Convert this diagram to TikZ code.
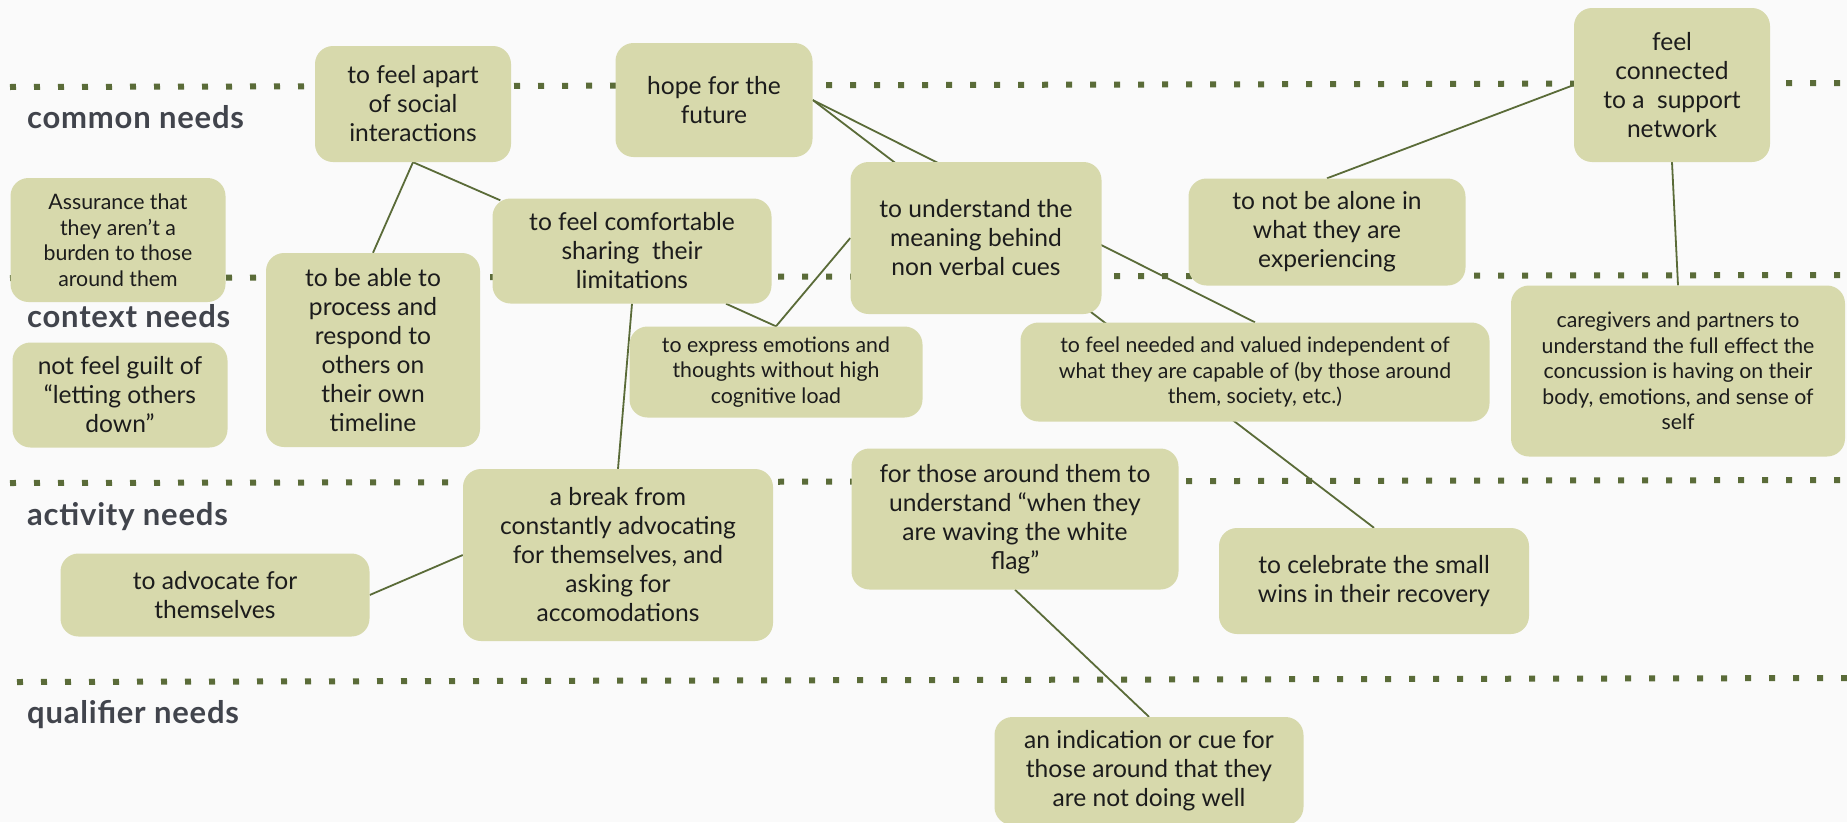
\documentclass[tikz,border=0pt]{standalone}
\usepackage{fontspec}
\setmainfont{Lato}
\newfontfamily\tierfont[LetterSpace=2.5]{Lato}
\usetikzlibrary{calc,backgrounds}
\definecolor{boxfill}{HTML}{D7D9AC}
\definecolor{olive}{HTML}{5A6B38}
\definecolor{labelgray}{HTML}{41444C}
\definecolor{paper}{HTML}{FAFAFA}
\definecolor{ink}{HTML}{1C1C1C}

\begin{document}
\begin{tikzpicture}[x=1pt,y=-1pt,
    needbox/.style={fill=boxfill,rounded corners=18pt,inner sep=0pt,align=center,text=ink,
      font=\fontsize{24.6}{29}\selectfont},
    smallbox/.style={needbox,font=\fontsize{21.3}{25.5}\selectfont},
    tier/.style={anchor=base west,inner sep=0pt,text=labelgray,font=\tierfont\fontsize{31}{36}\selectfont\bfseries},
    link/.style={olive,line width=1.8pt},
    dots/.style={olive,line width=6pt,dash pattern=on 6pt off 18pt}]
  \useasboundingbox (0,0) rectangle (1847,822);

  \begin{pgfonlayer}{background}
    \fill[paper] (0,0) rectangle (1847,822);
    % tier separators
    \foreach \ya/\yb/\xa in {87/83/10, 278/275/10, 483/480/10, 682/678/17}
      \draw[dots] (\xa,\ya) -- (1847,\yb);
  \end{pgfonlayer}

  % tier labels
  \node[tier] (common) at (27,128) {common needs};
  \node[tier] (context) at (27,327) {context needs};
  \node[tier] (activity) at (27,525) {activity needs};
  \node[tier] (qualifier) at (27,723) {qualifier needs};

  % common needs
  \node[needbox,minimum width=196pt,minimum height=116pt] (apart) at (413,104)
    {to feel apart\\of social\\interactions};
  \node[needbox,minimum width=197pt,minimum height=114pt] (hope) at (714,100)
    {hope for the\\future};
  \node[needbox,minimum width=196pt,minimum height=154pt] (conn) at (1672,85)
    {feel\\connected\\to a\ \ support\\network};

  % context needs
  \node[smallbox,minimum width=215pt,minimum height=124pt] (assur) at (118,240)
    {Assurance that\\they aren’t a\\burden to those\\around them};
  \node[needbox,minimum width=214pt,minimum height=194pt] (able) at (373,350)
    {to be able to\\process and\\respond to\\others on\\their own\\timeline};
  \node[needbox,minimum width=279pt,minimum height=105pt] (comf) at (632,251)
    {to feel comfortable\\sharing\ \ their\\limitations};
  \node[needbox,minimum width=251pt,minimum height=152pt] (und) at (976,238)
    {to understand the\\meaning behind\\non verbal cues};
  \node[needbox,minimum width=277pt,minimum height=107pt] (alone) at (1327,232)
    {to not be alone in\\what they are\\experiencing};
  \node[needbox,minimum width=215pt,minimum height=105pt] (guilt) at (120,395)
    {not feel guilt of\\“letting others\\down”};
  \node[smallbox,minimum width=293pt,minimum height=91pt] (express) at (776,372)
    {to express emotions and\\thoughts without high\\cognitive load};
  \node[smallbox,minimum width=469pt,minimum height=99pt] (valued) at (1255,372)
    {to feel needed and valued independent of\\what they are capable of (by those around\\them, society, etc.)};
  \node[smallbox,minimum width=334pt,minimum height=171pt] (care) at (1678,371)
    {caregivers and partners to\\understand the full effect the\\concussion is having on their\\body, emotions, and sense of\\self};

  % activity needs
  \node[needbox,minimum width=310pt,minimum height=172pt] (brk) at (618,555)
    {a break from\\constantly advocating\\for themselves, and\\asking for\\accomodations};
  \node[needbox,minimum width=309pt,minimum height=83pt] (adv) at (215,595)
    {to advocate for\\themselves};
  \node[needbox,minimum width=327pt,minimum height=141pt] (flag) at (1015,519)
    {for those around them to\\understand “when they\\are waving the white\\flag”};
  \node[needbox,minimum width=310pt,minimum height=106pt] (cel) at (1374,581)
    {to celebrate the small\\wins in their recovery};

  % qualifier needs
  \node[needbox,minimum width=309pt,minimum height=108pt] (ind) at (1149,771)
    {an indication or cue for\\those around that they\\are not doing well};

  \begin{pgfonlayer}{background}
    \draw[link] (apart.south) -- (able.north);
    \draw[link] (apart.south) -- ($(comf.north west)+(8,2)$);
    \draw[link] (comf.south) -- (brk.north);
    \draw[link] ($(comf.south)+(94,0)$) -- (express.north);
    \draw[link] (express.north) -- (und.west);
    \draw[link] (hope.east) -- (valued.north);
    \draw[link] (hope.east) -- (cel.north);
    \draw[link] (alone.north) -- (conn.west);
    \draw[link] (conn.south) -- (care.north);
    \draw[link] (brk.west) -- (adv.east);
    \draw[link] (flag.south) -- (ind.north);
  \end{pgfonlayer}
\end{tikzpicture}
\end{document}
